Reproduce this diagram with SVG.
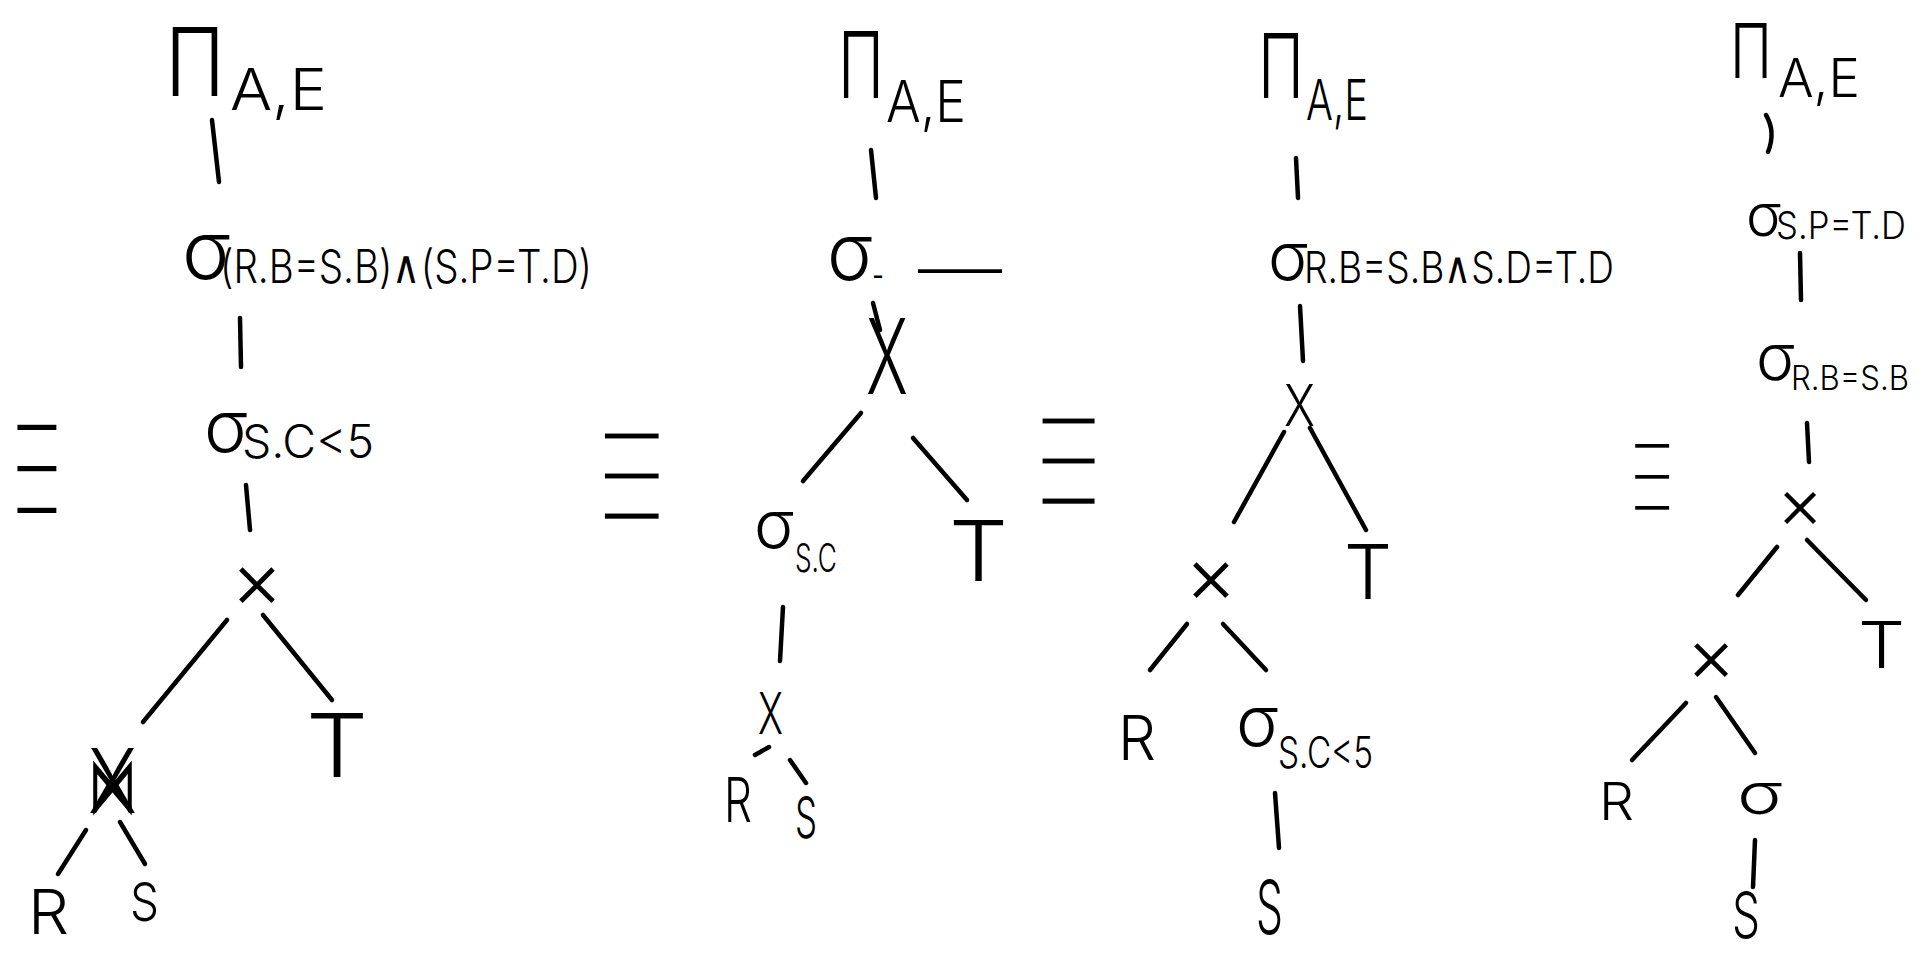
<svg xmlns="http://www.w3.org/2000/svg" width="1918" height="954" viewBox="0 0 1918 954">
<style>
.t{font-family:Inter,"Liberation Sans","DejaVu Sans",sans-serif;font-weight:300;fill:#000}
.eq{font-family:"DejaVu Sans",sans-serif;fill:#000;stroke:#fff;stroke-width:6}
.c{stroke:#000;stroke-width:4.5;stroke-linecap:round;fill:none}
</style>
<rect width="1918" height="954" fill="#fff"/>
<g id="connectors">
<path class="c" d="M212 120L219 182"/>
<path class="c" d="M240 318L241 367"/>
<path class="c" d="M246 485L250 530"/>
<path class="c" d="M227 620L143 722"/>
<path class="c" d="M263 615L332 700"/>
<path class="c" d="M86 830L58 874"/>
<path class="c" d="M120 822L145 864"/>
<path class="c" d="M871 150L876 198"/>
<path class="c" d="M873 303L880 330"/>
<path class="c" d="M861 413L803 481"/>
<path class="c" d="M913 438L967 500"/>
<path class="c" d="M783 607L780 661"/>
<path class="c" d="M755 755L769 747"/>
<path class="c" d="M790 760L806 783"/>
<path class="c" d="M1296 158L1298 198"/>
<path class="c" d="M1300 306L1303 361"/>
<path class="c" d="M1284 432L1234 522"/>
<path class="c" d="M1310 428L1366 530"/>
<path class="c" d="M1187 624L1150 670"/>
<path class="c" d="M1223 624L1266 670"/>
<path class="c" d="M1275 793L1279 848"/>
<path class="c" d="M1766 115Q1776 132 1768 152"/>
<path class="c" d="M1800 253L1801 300"/>
<path class="c" d="M1807 423L1809 462"/>
<path class="c" d="M1777 547L1738 595"/>
<path class="c" d="M1807 540L1866 600"/>
<path class="c" d="M1686 703L1632 760"/>
<path class="c" d="M1716 697L1755 753"/>
<path class="c" d="M1755 840L1753 887"/>
</g>
<g id="equiv1"><text class="eq" transform="translate(8,540) scale(0.69,2.27)" font-size="100">≡</text></g>
<g id="equiv2"><text class="eq" transform="translate(592,545) scale(0.95,2.2)" font-size="100">≡</text></g>
<g id="equiv3"><text class="eq" transform="translate(1030,530) scale(0.92,2.2)" font-size="100">≡</text></g>
<g id="equiv4"><text class="eq" transform="translate(1627,530) scale(0.6,1.7)" font-size="100">≡</text></g>
<g id="t1-proj"><text class="t"><tspan x="165" y="96" font-size="95" textLength="60" lengthAdjust="spacingAndGlyphs">Π</tspan><tspan x="230" y="110" font-size="58" textLength="97" lengthAdjust="spacingAndGlyphs">A,E</tspan></text></g>
<g id="t1-sel1"><text class="t"><tspan x="182" y="279" font-size="80">σ</tspan><tspan x="220" y="283" font-size="46" textLength="372" lengthAdjust="spacingAndGlyphs">(R.B=S.B)∧(S.P=T.D)</tspan></text></g>
<g id="t1-sel2"><text class="t"><tspan x="204" y="452" font-size="72">σ</tspan><tspan x="242" y="458" font-size="46" textLength="132" lengthAdjust="spacingAndGlyphs">S.C&lt;5</tspan></text></g>
<g id="t1-cross"><text class="t" x="257" y="608" font-size="80" text-anchor="middle">×</text></g>
<g id="t1-join"><text class="t"><tspan x="88" y="813" font-size="80" textLength="49" lengthAdjust="spacingAndGlyphs">⋈</tspan><tspan x="88" y="813" font-size="90" textLength="49" lengthAdjust="spacingAndGlyphs">X</tspan></text></g>
<g id="t1-T"><text class="t" x="306" y="777" font-size="88" textLength="62" lengthAdjust="spacingAndGlyphs">T</text></g>
<g id="t1-R"><text class="t" x="28" y="934" font-size="62" textLength="41" lengthAdjust="spacingAndGlyphs">R</text></g>
<g id="t1-S"><text class="t" x="130" y="921" font-size="54" textLength="29" lengthAdjust="spacingAndGlyphs">S</text></g>
<g id="t2-proj"><text class="t"><tspan x="838" y="98" font-size="92" textLength="46" lengthAdjust="spacingAndGlyphs">Π</tspan><tspan x="886" y="122" font-size="58" textLength="80" lengthAdjust="spacingAndGlyphs">A,E</tspan></text></g>
<g id="t2-sel1"><text class="t"><tspan x="827" y="280" font-size="78" textLength="46" lengthAdjust="spacingAndGlyphs">σ</tspan><tspan x="872" y="289" font-size="40" textLength="12" lengthAdjust="spacingAndGlyphs">-</tspan><tspan x="918" y="290" font-size="60" textLength="84" lengthAdjust="spacingAndGlyphs">—</tspan></text></g>
<g id="t2-cross1"><text class="t" x="866" y="394" font-size="105" textLength="42" lengthAdjust="spacingAndGlyphs">X</text></g>
<g id="t2-sel2"><text class="t"><tspan x="754" y="548" font-size="66">σ</tspan><tspan x="795" y="572" font-size="40" textLength="42" lengthAdjust="spacingAndGlyphs">S.C</tspan></text></g>
<g id="t2-T"><text class="t" x="949" y="581" font-size="84" textLength="59" lengthAdjust="spacingAndGlyphs">T</text></g>
<g id="t2-cross2"><text class="t" x="758" y="734" font-size="58" textLength="25" lengthAdjust="spacingAndGlyphs">X</text></g>
<g id="t2-R"><text class="t" x="724" y="822" font-size="62" textLength="28" lengthAdjust="spacingAndGlyphs">R</text></g>
<g id="t2-S"><text class="t" x="795" y="838" font-size="58" textLength="22" lengthAdjust="spacingAndGlyphs">S</text></g>
<g id="t3-proj"><text class="t"><tspan x="1258" y="98" font-size="90" textLength="46" lengthAdjust="spacingAndGlyphs">Π</tspan><tspan x="1306" y="120" font-size="56" textLength="62" lengthAdjust="spacingAndGlyphs">A,E</tspan></text></g>
<g id="t3-sel"><text class="t"><tspan x="1268" y="280" font-size="66">σ</tspan><tspan x="1304" y="283" font-size="44" textLength="310" lengthAdjust="spacingAndGlyphs">R.B=S.B∧S.D=T.D</tspan></text></g>
<g id="t3-cross1"><text class="t" x="1284" y="426" font-size="58" textLength="31" lengthAdjust="spacingAndGlyphs">X</text></g>
<g id="t3-cross2"><text class="t" x="1211" y="603" font-size="80" text-anchor="middle">×</text></g>
<g id="t3-T"><text class="t" x="1344" y="599" font-size="76" textLength="48" lengthAdjust="spacingAndGlyphs">T</text></g>
<g id="t3-R"><text class="t" x="1118" y="760" font-size="62" textLength="38" lengthAdjust="spacingAndGlyphs">R</text></g>
<g id="t3-sel2"><text class="t"><tspan x="1236" y="746" font-size="70">σ</tspan><tspan x="1278" y="768" font-size="44" textLength="95" lengthAdjust="spacingAndGlyphs">S.C&lt;5</tspan></text></g>
<g id="t3-S"><text class="t" x="1256" y="934" font-size="74" textLength="27" lengthAdjust="spacingAndGlyphs">S</text></g>
<g id="t4-proj"><text class="t"><tspan x="1730" y="78" font-size="76" textLength="42" lengthAdjust="spacingAndGlyphs">Π</tspan><tspan x="1778" y="97" font-size="54" textLength="82" lengthAdjust="spacingAndGlyphs">A,E</tspan></text></g>
<g id="t4-sel1"><text class="t"><tspan x="1746" y="236" font-size="58">σ</tspan><tspan x="1776" y="239" font-size="38" textLength="130" lengthAdjust="spacingAndGlyphs">S.P=T.D</tspan></text></g>
<g id="t4-sel2"><text class="t"><tspan x="1756" y="380" font-size="64">σ</tspan><tspan x="1791" y="390" font-size="34" textLength="118" lengthAdjust="spacingAndGlyphs">R.B=S.B</tspan></text></g>
<g id="t4-cross1"><text class="t" x="1800" y="528" font-size="72" text-anchor="middle">×</text></g>
<g id="t4-cross2"><text class="t" x="1711" y="682" font-size="76" text-anchor="middle">×</text></g>
<g id="t4-T"><text class="t" x="1858" y="668" font-size="64" textLength="47" lengthAdjust="spacingAndGlyphs">T</text></g>
<g id="t4-R"><text class="t" x="1599" y="820" font-size="52" textLength="35" lengthAdjust="spacingAndGlyphs">R</text></g>
<g id="t4-sigma"><text class="t" x="1737" y="814" font-size="56" textLength="46" lengthAdjust="spacingAndGlyphs">σ</text></g>
<g id="t4-S"><text class="t" x="1732" y="938" font-size="64" textLength="28" lengthAdjust="spacingAndGlyphs">S</text></g>
</svg>
